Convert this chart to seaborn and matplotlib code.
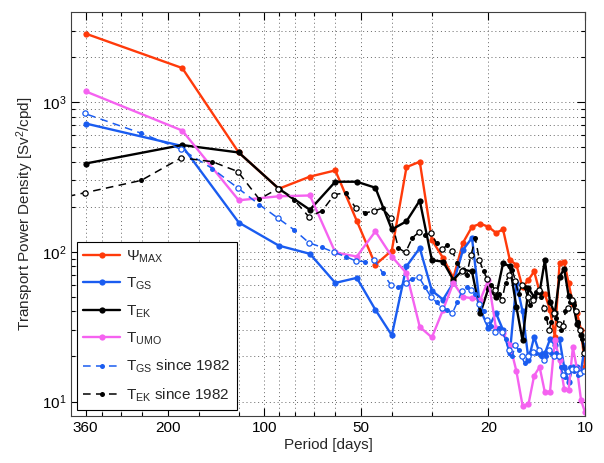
import numpy as np
import pandas as pd
import seaborn as sns
import matplotlib
matplotlib.use('Agg')
from matplotlib import pyplot as plt
from matplotlib.lines import Line2D

# data ------------------------------------------------------------------------
# full record: periods 360/k days, k = 1..36
period = 360.0 / np.arange(1, 37)
# since 1982: periods 725/k days, k = 1..72
period_82 = 725.0 / np.arange(1, 73)

psi_max = [2870, 1690, 461, 264, 318, 350, 161, 82, 102, 368, 400, 120, 91, 67,
           115, 147, 154, 147, 134, 141, 88, 82, 58, 65, 74, 54, 52, 41, 27, 84,
           86, 62, 45, 39, 30, 17]
t_gs = [720, 509, 157, 110, 97, 62, 67, 41, 27.7, 80, 106, 55, 48, 62, 103, 124,
        41, 31, 39, 30, 21, 62, 40, 19, 27, 21, 21, 26, 24, 26, 17, 13.5, 17, 17,
        16, 24]
t_ek = [389, 517, 461, 264, 191, 294, 294, 268, 141, 160, 220, 88, 86, 65, 76, 74,
        39, 57, 50, 84, 80, 43, 25.6, 57, 50, 54, 88, 46, 39, 68, 77, 51, 46, 33,
        28, 21]
t_umo = [1180, 646, 221, 235, 238, 99, 93, 137, 93, 72, 31.5, 26.8, 41, 62, 50, 49,
         48, 65, 31, 28.5, 24, 16, 9.4, 9.6, 14.9, 17, 11.5, 11.5, 25.6, 19, 12.2,
         11.9, 23, 16.5, 10.2, 8.5]

# blue dashed starts at k = 2
t_gs_82 = [840, 620, 484, 360, 267, 207, 168, 140, 115, 107, 99, 93, 87, 86, 88,
           72, 60, 58, 62, 66, 68, 58, 50, 46, 42, 41, 39, 46, 55, 58, 56, 52, 45,
           40, 35, 32, 29, 31, 29, 26, 22, 20, 24, 22, 20, 18, 20, 21, 21.5, 21,
           22, 20, 19, 20, 22, 21, 20, 21, 20, 17, 15, 14.6, 16, 17, 16.5, 16,
           16.5, 15, 15.5, 16, 16]
t_ek_82 = [180, 248, 300, 425, 400, 344, 225, 264, 222, 171, 188, 241, 248, 196,
           182, 188, 196, 168, 106, 99, 124, 135, 130, 133, 114, 104, 111, 101, 84,
           74, 70, 95, 123, 88, 74, 66, 60, 56, 52, 48, 62, 70, 76, 64, 52, 60, 58,
           50, 44, 48, 54, 56, 50, 42, 36, 30, 34, 39, 36, 33, 30, 32, 40, 42, 46,
           48, 44, 40, 34, 30, 26, 21]

labels = [r'$\Psi_{MAX}$', r'$T_{GS}$', r'$T_{EK}$', r'$T_{UMO}$',
          r'$T_{GS}$ since 1982', r'$T_{EK}$ since 1982']

x_major = [360, 200, 100, 50, 20, 10]
x_minor = [320, 280, 240, 160, 120, 90, 80, 70, 60, 40, 30]

# style -----------------------------------------------------------------------
sns.set_style('ticks')
plt.rcParams['font.family'] = ['Liberation Sans', 'DejaVu Sans']
plt.rcParams['mathtext.fontset'] = 'custom'
plt.rcParams['mathtext.rm'] = 'Liberation Sans'
plt.rcParams['mathtext.it'] = 'Liberation Sans:italic'
plt.rcParams['mathtext.default'] = 'regular'
plt.rcParams['font.size'] = 11

red = '#ff3a0a'
blue = '#1a5cf0'
pink = '#f562f0'
dash = (0, (5, 3.5))

fig = plt.figure(figsize=(6.04, 4.63), dpi=100)
ax = fig.add_axes([0.1175, 0.1015, 0.851, 0.8725])

handles = []

def draw(x, y, color, ls, lw, ms):
    sns.lineplot(x=x, y=y, ax=ax, color=color, linestyle=ls, linewidth=lw,
                 marker='o', markersize=ms, markeredgewidth=0, sort=True,
                 estimator=None)
    handles.append(Line2D([], [], color=color, linestyle=ls, linewidth=lw,
                          marker='o', markersize=ms, markeredgewidth=0))

draw(period, psi_max, red, '-', 1.7, 4.5)
draw(period, t_gs, blue, '-', 1.7, 4.5)
draw(period, t_ek, 'k', '-', 1.7, 4.5)
draw(period, t_umo, pink, '-', 1.7, 4.5)
draw(period_82[1:], t_gs_82, blue, dash, 1.1, 3.6)
draw(period_82, t_ek_82, 'k', dash, 1.1, 3.6)

# open markers on every other point of the dashed records
ax.plot(period_82[1::2], np.array(t_gs_82)[::2], 'o', mfc='white', mec=blue,
        ms=3.8, mew=0.9, ls='none')
ax.plot(period_82[1::2], np.array(t_ek_82)[1::2], 'o', mfc='white', mec='k',
        ms=3.8, mew=0.9, ls='none')

# axes ------------------------------------------------------------------------
ax.set_xscale('log')
ax.set_yscale('log')
ax.set_xlim(400, 10)
ax.set_ylim(8, 4000)

ax.set_xticks(x_major)
ax.set_xticklabels([str(v) for v in x_major])
ax.set_xticks(x_minor, minor=True)
ax.set_xticklabels([], minor=True)

ax.set_yticks([10, 100, 1000])
ax.set_yticklabels([r'$10^1$', r'$10^2$', r'$10^3$'])
ymin = [v * d for d in (10, 100, 1000) for v in range(2, 10) if v * d < 4000]
ax.set_yticks(ymin, minor=True)
ax.set_yticklabels([], minor=True)

ax.tick_params(which='both', direction='in', top=True, right=True,
               labelsize=11, width=0.8, colors='k')
ax.tick_params(which='major', length=6)
ax.tick_params(which='minor', length=3)
ax.grid(which='both', linestyle=(0, (1, 3)), color='0.4', linewidth=0.7)
for s in ax.spines.values():
    s.set_linewidth(0.8)
    s.set_color('0.25')

ax.set_xlabel('Period [days]', fontsize=11, labelpad=2)
ax.set_ylabel('Transport Power Density [Sv$^2$/cpd]', fontsize=11, labelpad=4)

leg = ax.legend(handles, labels, loc='lower left', bbox_to_anchor=(0.012, 0.015),
                borderaxespad=0, fancybox=False, framealpha=1, edgecolor='k',
                fontsize=11, handlelength=2.4, labelspacing=0.72,
                handletextpad=0.4, borderpad=0.4)
leg.get_frame().set_linewidth(0.8)

fig.savefig('out.png', dpi=100)
